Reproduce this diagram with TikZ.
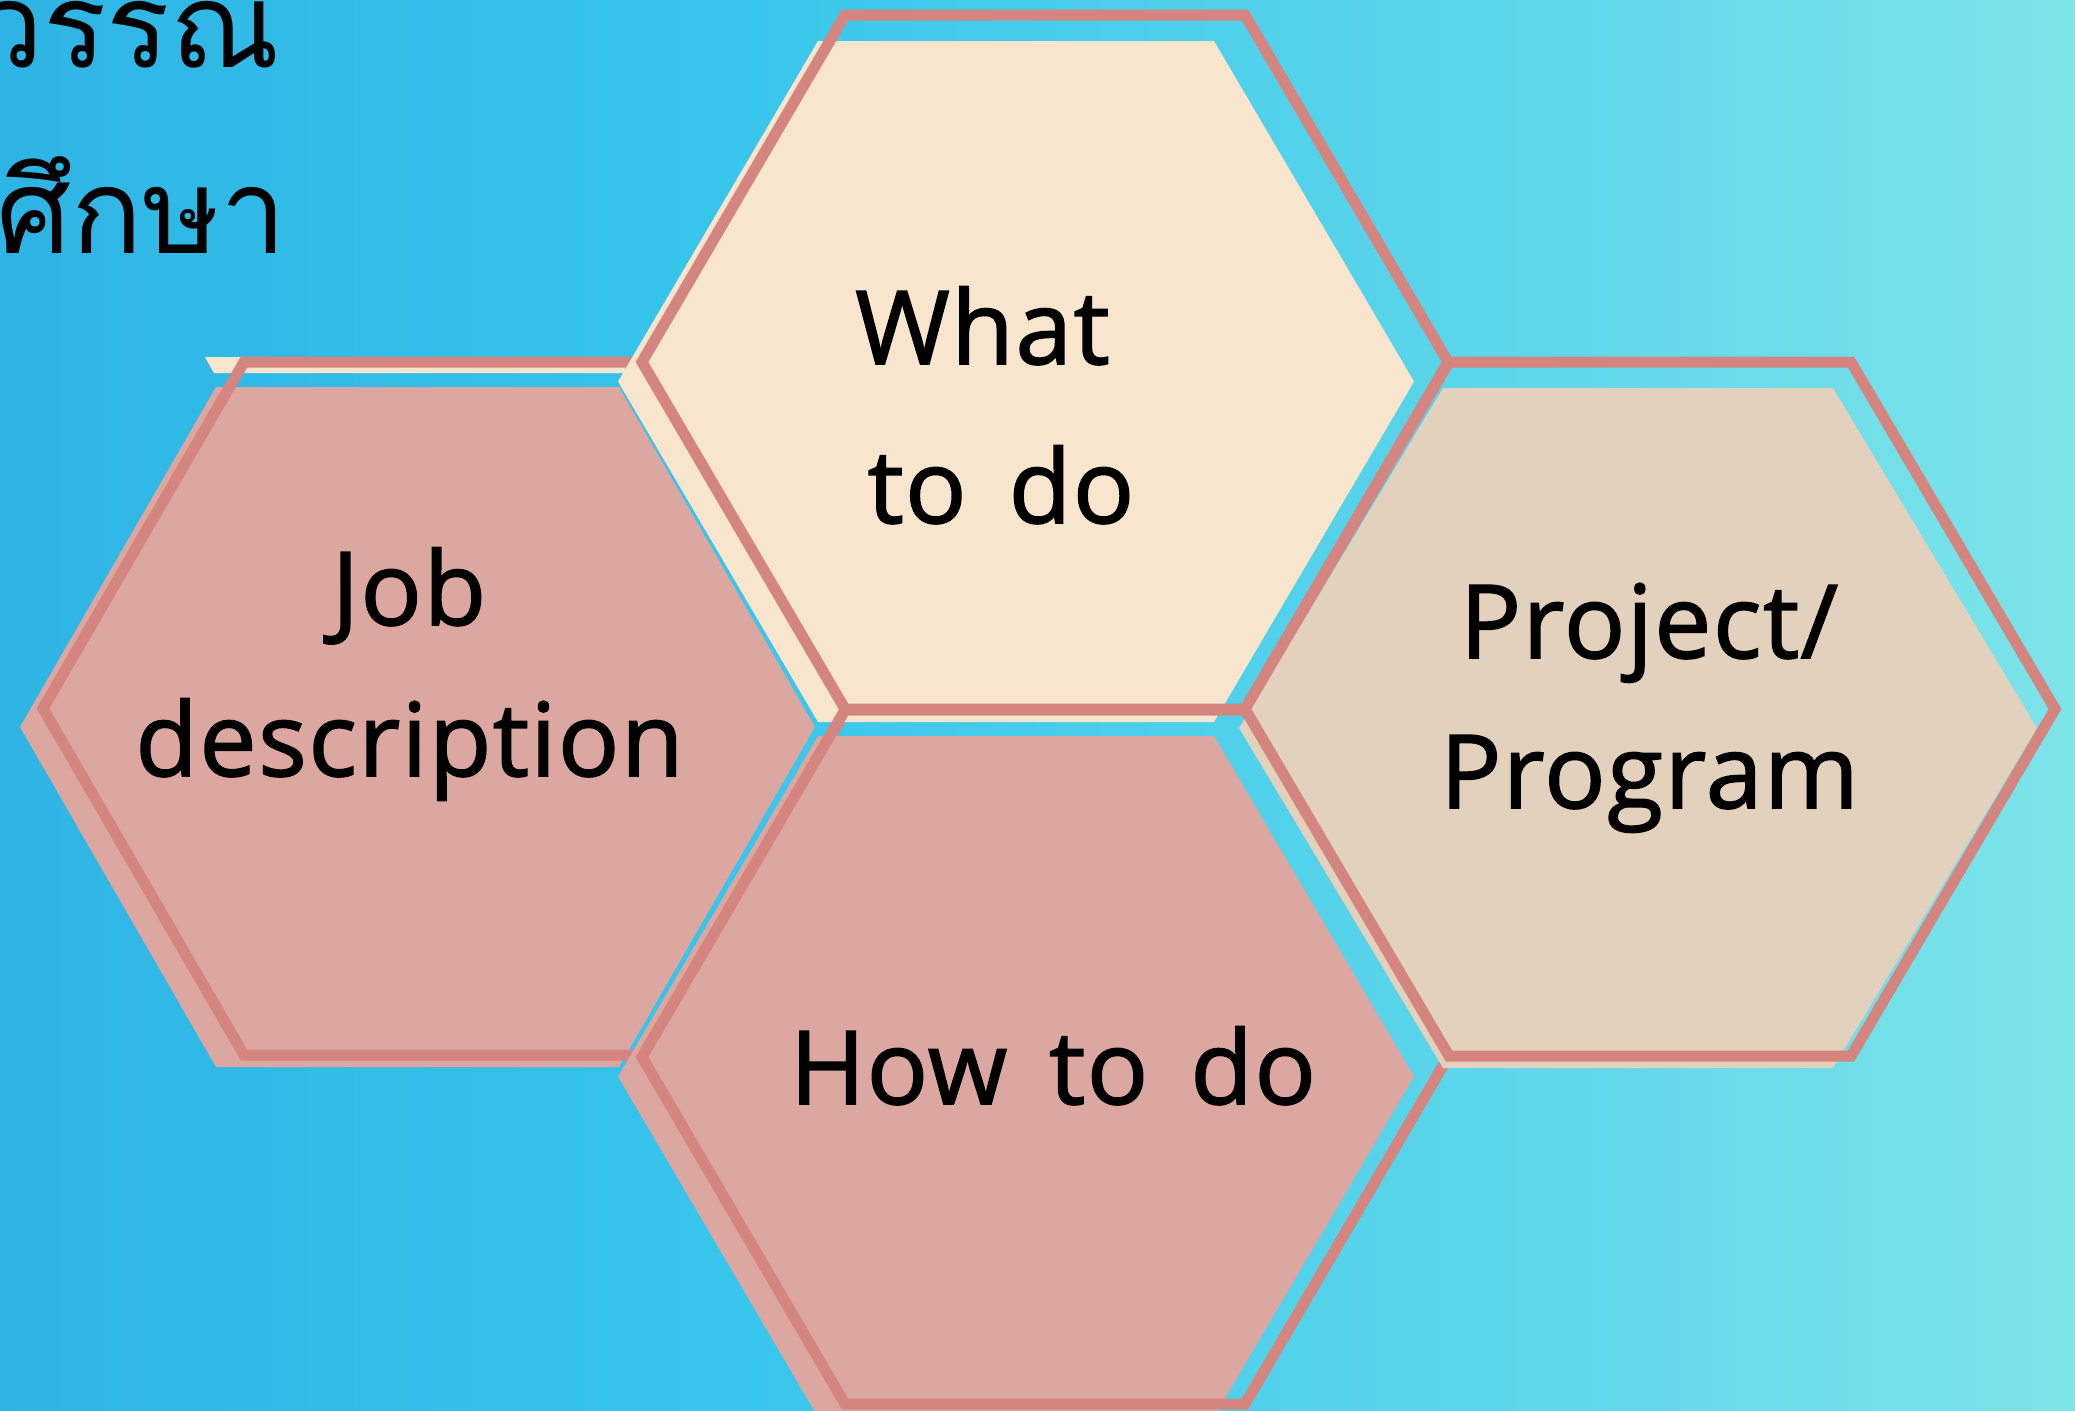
\documentclass[tikz,border=0pt]{standalone}
\usepackage{fontspec}
\newfontfamily\latinfont[LetterSpace=1.5,WordSpace=1.5,FakeBold=1.6]{Open Sans}
\newfontfamily\thaifont[Script=Thai]{Loma}
\definecolor{outc}{RGB}{213,133,127}
\definecolor{creamc}{RGB}{248,229,205}
\definecolor{pinkc}{RGB}{220,167,161}
\definecolor{beigec}{RGB}{226,209,188}
\pgfdeclarehorizontalshading{bgshade}{100bp}{rgb(0bp)=(0.180,0.706,0.894); rgb(25bp)=(0.180,0.706,0.894); rgb(42bp)=(0.216,0.773,0.925); rgb(61bp)=(0.361,0.839,0.918); rgb(75bp)=(0.490,0.894,0.914); rgb(100bp)=(0.490,0.894,0.914)}
\newcommand\hexshape[6]{\path[#1] (#2-#4,#3) -- (#2-#5,#3-#6) -- (#2+#5,#3-#6) -- (#2+#4,#3) -- (#2+#5,#3+#6) -- (#2-#5,#3+#6) -- cycle;}
\tikzset{
  outl/.style={draw=outc,line width=11pt,line join=miter},
  lbl/.style={font={\latinfont\fontsize{102}{110}\selectfont},anchor=base,inner sep=0pt,text=black},
  thl/.style={font={\thaifont\fontsize{118}{125}\selectfont},anchor=base east,inner sep=0pt,text=black}
}
\begin{document}
\begin{tikzpicture}[x=1pt,y=-1pt]
\useasboundingbox (0,0) rectangle (2075,1411);
\clip (0,0) rectangle (2075,1411);
\shade[shading=bgshade] (0,0) rectangle (2075,1411);
% Thai heading (cut by the left edge, as in the reference)
\node[thl] (t1) at (280,67) {วรรณ};
\node[thl] (t2) at (287,253) {สถานศึกษา};
% Job description
\fill[creamc] (205,357) -- (625,357) -- (625,373) -- (214,373) -- cycle;
\hexshape{fill=pinkc}{417.5}{727}{397.5}{201.5}{340}
\hexshape{outl}{445}{708.5}{402}{201}{346.5}
% What to do
\hexshape{fill=creamc}{1016}{381.5}{398}{198}{340.5}
\hexshape{outl}{1045}{362}{403}{200}{347}
% How to do
\hexshape{fill=pinkc}{1016}{1076.5}{398}{198}{340.5}
\hexshape{outl}{1045}{1057}{403}{200}{347}
% Project / Program
\hexshape{fill=beigec}{1638}{728}{399}{195}{340}
\hexshape{outl}{1650}{709}{405}{201}{347}
% labels
\node[lbl] (what) at (982.5,364) {What};
\node[lbl] (todo) at (1001,523) {to do};
\node[lbl] (job) at (409,625) {Job};
\node[lbl] (desc) at (409.5,776) {description};
\node[lbl] (proj) at (1649,658) {Project/};
\node[lbl] (prog) at (1649.5,808) {Program};
\node[lbl] (how) at (1053,1104) {How to do};
\end{tikzpicture}
\end{document}
